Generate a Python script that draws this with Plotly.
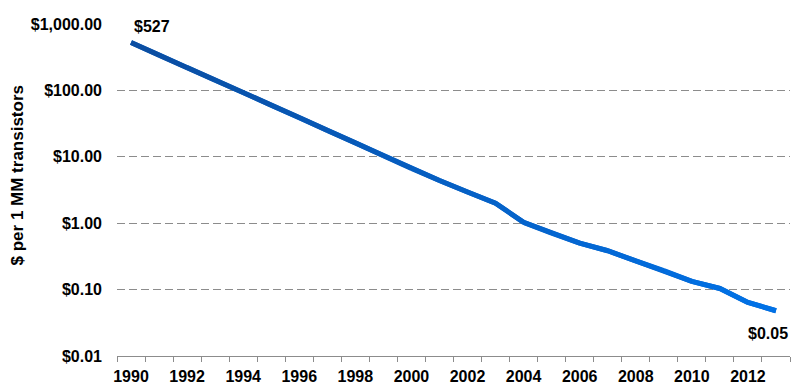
import math
import plotly.graph_objects as go

years = list(range(1990, 2014))
cost_per_mm = [527, 340, 220, 143, 93, 60, 39, 25, 16.2, 10.4, 6.7, 4.4, 2.95, 2.0,
               1.03, 0.71, 0.50, 0.385, 0.27, 0.193, 0.133, 0.104, 0.064, 0.048]
y_tickvals = [0.01, 0.1, 1, 10, 100, 1000]
y_ticktext = ["$0.01", "$0.10", "$1.00", "$10.00", "$100.00", "$1,000.00"]
x_tickvals = list(range(1990, 2013, 2))
x_ticktext = [str(y) for y in x_tickvals]
start_label = "$527"
end_label = "$0.05"
y_title = "$ per 1 MM transistors"

FONT = "Liberation Sans, Arial, sans-serif"
c0 = (11, 77, 160)
c1 = (0, 114, 232)

def mix(t):
    return "rgb(%d,%d,%d)" % tuple(round(a + (b - a) * t) for a, b in zip(c0, c1))

fig = go.Figure()
fig.add_trace(go.Scatter(x=years, y=cost_per_mm, mode="lines",
                         line=dict(color=mix(0.6), width=5), hoverinfo="skip",
                         showlegend=False))
n = len(years)
for i in range(n - 1):
    t = (i + 0.5) / (n - 1)
    fig.add_trace(go.Scatter(x=years[i:i + 2], y=cost_per_mm[i:i + 2], mode="lines",
                             line=dict(color=mix(t), width=5), showlegend=False))

fig.add_annotation(x=years[0], y=math.log10(cost_per_mm[0]), text=start_label,
                   showarrow=False, xshift=21, yshift=16, bgcolor="white",
                   font=dict(family=FONT, size=16, color="black", weight="bold"))
fig.add_annotation(x=years[-1], y=math.log10(cost_per_mm[-1]), text=end_label,
                   showarrow=False, xshift=-8, yshift=-23,
                   font=dict(family=FONT, size=16, color="black", weight="bold"))
fig.add_annotation(xref="paper", yref="paper", x=-0.148, y=0.545, text=y_title,
                   textangle=-90, showarrow=False, xanchor="center", yanchor="middle",
                   font=dict(family=FONT, size=17, color="black", weight="bold"))

minor_vals = [y - 0.5 for y in years] + [years[-1] + 0.5]

fig.update_layout(
    width=795, height=389,
    margin=dict(l=117, r=5, t=24, b=33),
    plot_bgcolor="white", paper_bgcolor="white",
    showlegend=False,
    xaxis=dict(range=[years[0] - 0.5, years[-1] + 0.5], tickmode="array",
               tickvals=x_tickvals, ticktext=x_ticktext, ticks="",
               showgrid=False, zeroline=False, showline=True, linecolor="#8c8c8c",
               linewidth=1, ticklabelstandoff=6,
               tickfont=dict(family=FONT, size=16, color="black", weight="bold"),
               minor=dict(tickmode="array", tickvals=minor_vals, ticks="outside",
                          ticklen=5, tickcolor="#8c8c8c", tickwidth=1, showgrid=False)),
    yaxis=dict(type="log", range=[-2, 3], tickmode="array", tickvals=y_tickvals,
               ticktext=y_ticktext, showgrid=True, gridcolor="#8c8c8c", gridwidth=1,
               griddash="8px,4px", showline=False, zeroline=False, ticks="",
               ticklabelstandoff=14,
               tickfont=dict(family=FONT, size=16, color="black", weight="bold")),
)

fig.write_html("out.html", config={"displayModeBar": False})
with open("out.html", "r", encoding="utf-8") as f:
    html = f.read()
html = html.replace("<head>", "<head><style>html,body{margin:0;padding:0;overflow:hidden}</style>", 1)
with open("out.html", "w", encoding="utf-8") as f:
    f.write(html)
